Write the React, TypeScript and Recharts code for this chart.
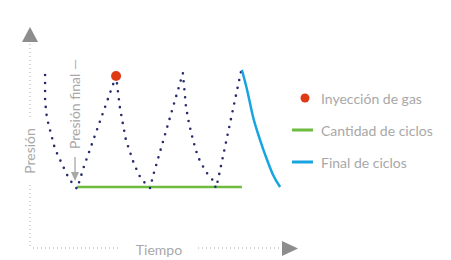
import { ComposedChart, Line, Scatter, XAxis, YAxis } from "recharts";

// schematic: time (0-100) vs pressure (0-100)
const cycleTime = [5.8, 5.8, 6.5, 8.1, 9.6, 12.3, 15.0, 18.1, 20.8, 33.1, 34.6, 36.9, 40.0, 42.7, 46.2, 47.3, 58.8, 60.0, 61.2, 62.7, 64.6, 67.7, 70.0, 71.5, 72.3, 81.2];
const cyclePressure = [83.2, 70.7, 62.5, 54.8, 47.6, 40.4, 33.2, 28.4, 39.4, 82.7, 67.3, 51.9, 40.4, 33.2, 28.8, 34.6, 84.1, 67.8, 59.6, 51.9, 43.8, 36.5, 33.2, 28.8, 32.7, 85.1];

const finalTime = [81.5, 83.5, 85.8, 88.5, 91.2, 93.5, 96.2];
const finalPressure = [85.6, 76.0, 63.0, 51.9, 42.3, 35.1, 29.3];

const baseTime = [18.1, 81.5];
const basePressure = [29.3, 29.3];

const injectionTime = [33.1];
const injectionPressure = [82.7];

const cycleData = cycleTime.map((t, i) => ({ t, p: cyclePressure[i] }));
const finalData = finalTime.map((t, i) => ({ t, p: finalPressure[i] }));
const baseData = baseTime.map((t, i) => ({ t, p: basePressure[i] }));
const injectionData = injectionTime.map((t, i) => ({ t, p: injectionPressure[i] }));

const legendItems = [
  { name: "Inyección de gas", color: "#de3a16", kind: "dot" },
  { name: "Cantidad de ciclos", color: "#6dbb3f", kind: "line" },
  { name: "Final de ciclos", color: "#18a4e0", kind: "line" },
];

const gray = "#a8a8a8";
const font = "Lato, 'Open Sans', sans-serif";

const ChartLegend = () => (
  <div style={{ position: "absolute", left: 290, top: 82, fontFamily: font, fontSize: 14, color: gray }}>
    {legendItems.map((item) => (
      <div key={item.name} style={{ display: "flex", alignItems: "center", height: 32 }}>
        <svg width={30} height={10} style={{ marginRight: 1 }}>
          {item.kind === "dot" ? (
            <circle cx={15} cy={5} r={4.5} fill={item.color} />
          ) : (
            <line x1={2} x2={23} y1={5} y2={5} stroke={item.color} strokeWidth={3} />
          )}
        </svg>
        <span>{item.name}</span>
      </div>
    ))}
  </div>
);

const App = () => {
  return (
    <div style={{ position: "relative", width: 451, height: 260 }}>
      <style>{`body{margin:0}`}</style>
      <ComposedChart width={451} height={260} margin={{ top: 40, right: 161, bottom: 12, left: 30 }}>
        <XAxis type="number" dataKey="t" domain={[0, 100]} hide />
        <YAxis type="number" dataKey="p" domain={[0, 100]} hide />
        <Line
          data={baseData}
          dataKey="p"
          stroke="#6dbb3f"
          strokeWidth={2.5}
          dot={false}
          isAnimationActive={false}
          legendType="none"
        />
        <Line
          data={cycleData}
          dataKey="p"
          type="linear"
          stroke="#272c6b"
          strokeWidth={2.6}
          strokeDasharray="0 8"
          strokeLinecap="round"
          dot={false}
          isAnimationActive={false}
          legendType="none"
        />
        <Line
          data={finalData}
          dataKey="p"
          type="monotone"
          stroke="#18a4e0"
          strokeWidth={2.5}
          dot={false}
          isAnimationActive={false}
          legendType="none"
        />
        <Scatter data={injectionData} dataKey="p" fill="#de3a16" shape={(props: any) => <circle cx={props.cx} cy={props.cy} r={5} fill="#de3a16" />} isAnimationActive={false} />
      </ComposedChart>
      <ChartLegend />
      <svg width={451} height={260} style={{ position: "absolute", left: 0, top: 0, pointerEvents: "none" }}>
        <g fontFamily={font} fontSize={14} fill={gray}>
          <polygon points="22,42 38,42 30,27" fill="#8d8d8d" />
          <line x1={30} x2={30} y1={44} y2={118} stroke={gray} strokeDasharray="1 3" />
          <line x1={30} x2={30} y1={185} y2={248} stroke={gray} strokeDasharray="1 3" />
          <text x={29} y={151} transform="rotate(-90 29 151)" textAnchor="middle" dominantBaseline="central">Presión</text>
          <line x1={33} x2={121} y1={248} y2={248} stroke={gray} strokeDasharray="1 3" />
          <text x={159} y={249} textAnchor="middle" dominantBaseline="central">Tiempo</text>
          <line x1={198} x2={281} y1={248} y2={248} stroke={gray} strokeDasharray="1 3" />
          <polygon points="282,241 282,256 298,248.5" fill="#8d8d8d" />
          <text x={74} y={104} transform="rotate(-90 74 104)" textAnchor="middle" dominantBaseline="central">Presión final —</text>
          <line x1={75} x2={75} y1={157} y2={174} stroke={gray} strokeWidth={1.3} />
          <polygon points="71,172 79,172 75,181" fill={gray} />
        </g>
      </svg>
    </div>
  );
};

export default App;
